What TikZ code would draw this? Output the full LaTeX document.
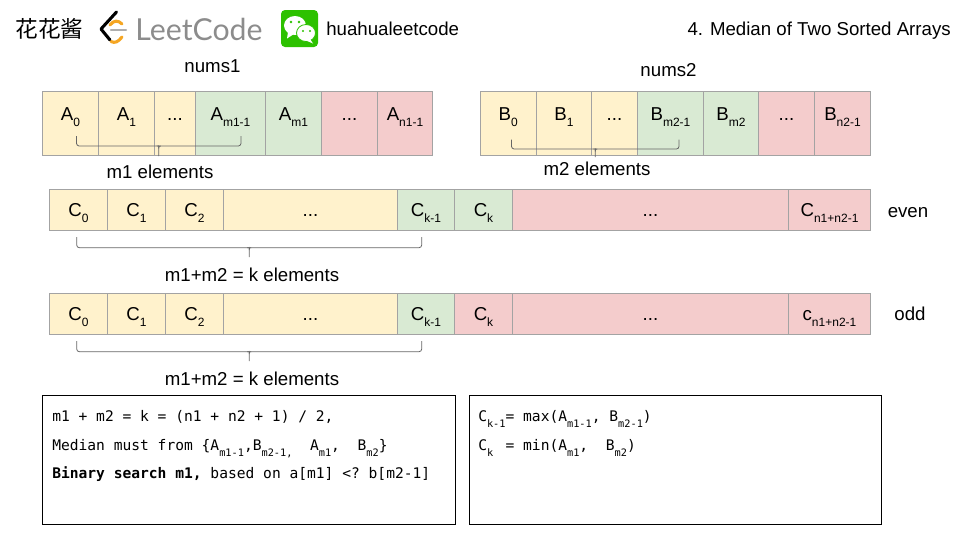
\documentclass[tikz,border=0pt]{standalone}
\usepackage{fontspec}
\setmainfont{Liberation Sans}
\setmonofont{DejaVu Sans Mono}
\newfontfamily\cjkfont{Noto Sans CJK SC}
\newfontfamily\logofont{Lato}
\definecolor{cellyellow}{HTML}{FFF2CC}
\definecolor{cellgreen}{HTML}{D9EAD3}
\definecolor{cellred}{HTML}{F4CCCC}
\definecolor{cellline}{HTML}{A3A3A3}
\definecolor{braceline}{HTML}{666666}
\definecolor{logogray}{HTML}{8C8C8C}
\definecolor{logoorange}{HTML}{F5A623}
\definecolor{wechatgreen}{HTML}{2DC100}
\newcommand\subs[1]{\raisebox{-4.5pt}{\fontsize{9}{9}\selectfont #1}}
\newcommand\msub[1]{\raisebox{-4.5pt}{\fontsize{7.7}{8}\selectfont #1}}
\newcommand\lab[2]{\raisebox{\cellraise}[0pt][0pt]{#1\subs{#2}}}
\newcommand\dts{...}
\newcommand\spanbrace[5]{\draw[bracket] (#1,#3) -- (#1,#4) -- (#2,#4) -- (#2,#3);
	\draw[bracket] ({(#1+#2)/2-2},#4) .. controls ({(#1+#2)/2},#4) .. ({(#1+#2)/2},{#4+2.5}) -- ({(#1+#2)/2},#5);
	\draw[bracket] ({(#1+#2)/2+2},#4) .. controls ({(#1+#2)/2},#4) .. ({(#1+#2)/2},{#4+2.5});}
\tikzset{
	cell/.style={draw=cellline,line width=.75pt,inner sep=0pt},
	bracket/.style={draw=braceline,line width=.6pt,rounded corners=2pt},
	txt/.style={anchor=base,inner sep=0pt,font=\fontsize{14}{16}\selectfont},
	code/.style={anchor=base west,inner sep=0pt,font=\ttfamily\fontsize{10.95}{13}\selectfont},
	panel/.style={draw=black,line width=.75pt,anchor=north west,inner sep=0pt,outer sep=0pt}
}
\begin{document}
\begin{tikzpicture}[x=0.75pt,y=-0.75pt,font=\fontsize{14}{16}\selectfont]
	\useasboundingbox (0,0) rectangle (960,540);
	% header
	\node[txt,font=\cjkfont\fontsize{17}{20}\selectfont] (brand) at (49.5,37) {花花酱};
	\draw[line width=2.3pt,line join=round,line cap=round] (116.5,12) -- (101,29) -- (110,40);
	\draw[logoorange,line width=2.3pt,line cap=round] (111,41.5) .. controls (115,43.5) and (118,42) .. (122,37);
	\draw[logoorange,line width=2.3pt,line cap=round] (110,25) .. controls (114,20) and (118,20) .. (122,24);
	\draw[logogray!70,line width=1.8pt,line cap=round] (111,30) -- (126,30);
	\node[txt,text=logogray,font=\logofont\fontsize{22.7}{26}\selectfont] (leetcode) at (199,40) {LeetCode};
	\fill[wechatgreen,rounded corners=3pt] (281,10) rectangle (318,47);
	\fill[white] (295,25.5) ellipse (11 and 9.5);
	\fill[white] (288,32) -- (287,38.5) -- (294,34) -- cycle;
	\fill[white,draw=wechatgreen,line width=.6pt] (306,33) ellipse (9.5 and 8.5);
	\fill[white] (310,39) -- (313,43.5) -- (305,40) -- cycle;
	\foreach \px/\py in {291/22,299/22} \fill[wechatgreen] (\px,\py) circle (1.4);
	\foreach \px/\py in {303/31,310/31} \fill[wechatgreen] (\px,\py) circle (1.2);
	\node[txt,anchor=base west] (wechat) at (326,35) {huahualeetcode};
	\node[txt,anchor=base east] (title) at (951,35) {4. Median of Two Sorted Arrays};
	% nums1 and nums2
	\node[txt] (nums1) at (212.5,72.5) {nums1};
	\node[txt] (nums2) at (668.5,76) {nums2};
	\def\cellraise{2.25pt}
	\foreach \xa/\xb/\col/\id/\txta/\txtb in {42.5/98.5/cellyellow/a0/A/0,98.5/154.5/cellyellow/a1/A/1,154.5/195.5/cellyellow/a2/\dts/,195.5/265.5/cellgreen/a3/A/m1-1,265.5/321.5/cellgreen/a4/A/m1,321.5/377.5/cellred/a5/\dts/,377.5/432.5/cellred/a6/A/n1-1,480/536.5/cellyellow/b0/B/0,536.5/591.5/cellyellow/b1/B/1,591.5/637.5/cellyellow/b2/\dts/,637.5/703.5/cellgreen/b3/B/m2-1,703.5/758.5/cellgreen/b4/B/m2,758.5/814.5/cellred/b5/\dts/,814.5/870.5/cellred/b6/B/n2-1}
	\node[cell,fill=\col,minimum width={(\xb-\xa)*0.75pt},minimum height=48pt] (\id) at ({(\xa+\xb)/2},123) {\lab{\txta}{\txtb}};
	\spanbrace{76.5}{241}{136}{146}{156}
	\spanbrace{511.5}{679}{139.5}{149}{157}
	\node[txt] (m1el) at (160,178.8) {m1 elements};
	\node[txt] (m2el) at (597,175.8) {m2 elements};
	% even and odd
	\def\cellraise{-5pt}
	\foreach \ym/\r/\kcol/\lastc in {209.75/e/cellgreen/C,313.75/o/cellred/c}{
		\foreach \xa/\xb/\col/\id/\txta/\txtb in {49.5/107.5/cellyellow/0/C/0,107.5/165.5/cellyellow/1/C/1,165.5/223.5/cellyellow/2/C/2,223.5/397.5/cellyellow/3/\dts/,397.5/454.5/cellgreen/4/C/k-1,454.5/512.5/\kcol/5/C/k,512.5/788.5/cellred/6/\dts/,788.5/870.5/cellred/7/\lastc/n1+n2-1}
		\node[cell,fill=\col,minimum width={(\xb-\xa)*0.75pt},minimum height=31.1pt] (\r\id) at ({(\xa+\xb)/2},\ym) {\lab{\txta}{\txtb}};
	}
	\node[txt] (even) at (908,217.5) {even};
	\node[txt] (odd) at (910,320.8) {odd};
	\spanbrace{76.7}{421.7}{237}{247.7}{257}
	\spanbrace{76.7}{421.7}{341}{351.7}{361}
	\node[txt] (keven) at (252,281.5) {m1+m2 = k elements};
	\node[txt] (kodd) at (252,385.5) {m1+m2 = k elements};
	% notes
	\node[panel,minimum width=309.4pt,minimum height=96.75pt] (left) at (42.5,395) {};
	\node[panel,minimum width=309pt,minimum height=96.75pt] (right) at (469.5,395) {};
	\node[code] (l1) at (52,421.3) {m1 + m2 = k = (n1 + n2 + 1) / 2,};
	\node[code] (l2) at (52,450) {Median must from \{A\msub{m1-1},~\kern-6.58pt B\msub{m2-1,}~~A\msub{m1},~~B\msub{m2}\}};
	\node[code] (l3) at (52,478.7) {\textbf{Binary search m1,} based on a[m1] <? b[m2-1]};
	\node[code] (r1) at (478,421.3) {C\msub{k-1}= max(A\msub{m1-1}, B\msub{m2-1})};
	\node[code] (r2) at (478,450) {C\msub{k\phantom{-1}}= min(A\msub{m1},~~B\msub{m2})};
\end{tikzpicture}
\end{document}
